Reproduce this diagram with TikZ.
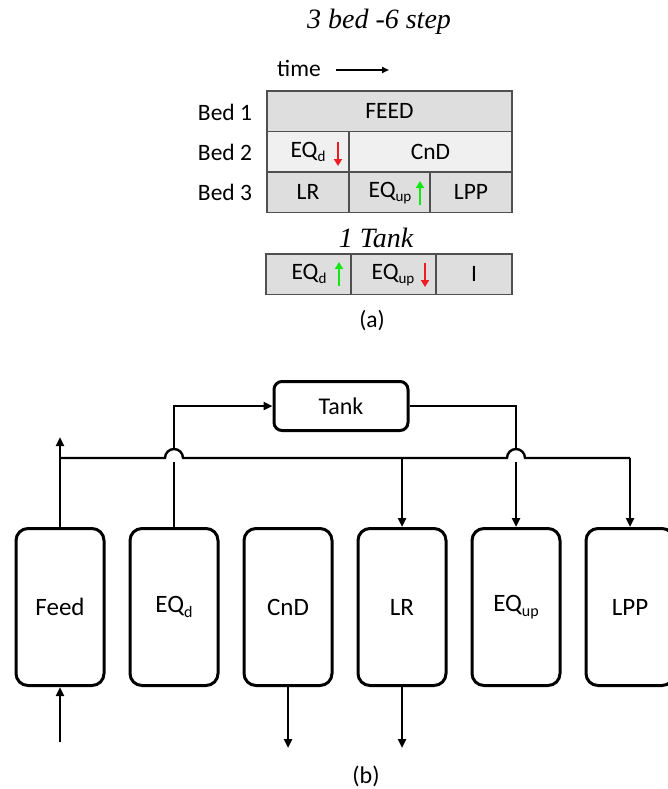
\documentclass[tikz,border=0pt]{standalone}
\usepackage{fontspec}
\setmainfont{Carlito}
\usetikzlibrary{arrows.meta}
\newfontfamily\ttlfont{Liberation Serif}
\definecolor{cellA}{HTML}{DEDEDE}
\definecolor{cellB}{HTML}{F0F0F0}
\definecolor{cellLine}{HTML}{505050}
\definecolor{arrRed}{HTML}{EE1C24}
\definecolor{arrGreen}{HTML}{14E614}
\newcommand\sbs[1]{\raisebox{-0.2em}{\scalebox{0.64}{#1}}}
\tikzset{
  cell/.style={draw=cellLine, line width=1.6pt, minimum height=40.5pt, inner sep=0pt, outer sep=0pt},
  gtxt/.style={font=\fontsize{23.5}{27}\selectfont, inner sep=0pt},
  ttl/.style={font=\ttlfont\itshape\fontsize{28}{32}\selectfont, inner sep=0pt},
  col/.style={draw, line width=3pt, rounded corners=12pt, minimum width=88pt, minimum height=157pt, inner sep=0pt, font=\fontsize{25}{30}\selectfont},
  conn/.style={line width=2.4pt},
  arr/.style={conn, -{Triangle[length=9pt,width=8pt]}},
  sym/.style={line width=2.8pt, -{Triangle[length=7pt,width=8pt]}}
}
\begin{document}
\begin{tikzpicture}[x=1pt,y=-1pt]
\useasboundingbox (0,0) rectangle (668,789);
\clip (0,0) rectangle (668,789);
% ---------------- (a) ----------------
\node[ttl] (title) at (379,22) {3 bed -6 step};
\node[gtxt, anchor=west] (time) at (277,68) {time};
\coordinate (tA) at (336,70);
\coordinate (tB) at (389,70);
\draw[line width=1.8pt, -{Triangle[length=7pt,width=6pt]}] (tA) -- (tB);

\node[gtxt] (bed1) at (225,112) {Bed 1};
\node[gtxt] (bed2) at (225,152) {Bed 2};
\node[gtxt] (bed3) at (225,192) {Bed 3};

\node[cell, fill=cellA, minimum width=245pt, anchor=north west] (feedc) at (267,91) {};
\node[cell, fill=cellB, minimum width=82pt, anchor=north west] (eqdc) at (267,131.5) {};
\node[cell, fill=cellB, minimum width=163pt, anchor=north west] (cndc) at (349,131.5) {};
\node[cell, fill=cellA, minimum width=82pt, anchor=north west] (lrc) at (267,172) {};
\node[cell, fill=cellA, minimum width=81pt, anchor=north west] (equpc) at (349,172) {};
\node[cell, fill=cellA, minimum width=82pt, anchor=north west] (lppc) at (430,172) {};

\node[gtxt] at (feedc.center) {FEED};
\node[gtxt] at (308,152) {EQ\sbs{d}};
\node[gtxt] at (cndc.center) {CnD};
\node[gtxt] at (lrc.center) {LR};
\node[gtxt] at (390,193) {EQ\sbs{up}};
\node[gtxt] at (lppc.center) {LPP};
\draw[sym, arrRed] (338,142) -- (338,166);
\draw[sym, arrGreen] (420,205) -- (420,181);

\node[ttl] (tanktitle) at (376,238) {1 Tank};
\node[cell, fill=cellA, minimum width=85pt, anchor=north west] (t1) at (266,254) {};
\node[cell, fill=cellA, minimum width=85pt, anchor=north west] (t2) at (351,254) {};
\node[cell, fill=cellA, minimum width=76pt, anchor=north west] (t3) at (436,254) {};
\node[gtxt] at (309,274) {EQ\sbs{d}};
\node[gtxt] at (393,275) {EQ\sbs{up}};
\node[gtxt] at (t3.center) {I};
\draw[sym, arrGreen] (339,286) -- (339,262);
\draw[sym, arrRed] (425,263) -- (425,287);

\node[gtxt] (capa) at (372,321) {(a)};

% ---------------- (b) ----------------
\node[draw, line width=3pt, rounded corners=8pt, minimum width=134pt, minimum height=49pt, inner sep=0pt, font=\fontsize{24}{28}\selectfont] (tank) at (341,406) {Tank};

\node[col] (feed) at (60,607) {Feed};
\node[col] (eqd)  at (174,607) {EQ\sbs{d}};
\node[col] (cnd)  at (288,607) {CnD};
\node[col] (lr)   at (402,607) {LR};
\node[col] (equp) at (516,607) {EQ\sbs{up}};
\node[col] (lpp)  at (630,607) {LPP};

\coordinate (feedin) at (60,742);
\coordinate (feedup) at (60,437);
\coordinate (cndout) at (288,748);
\coordinate (lrout)  at (402,748);
\coordinate (busL) at (60,458);
\coordinate (busLR) at (402,458);
\coordinate (busR) at (630,458);
\coordinate (hopA) at (174,449);
\coordinate (hopB) at (516,462);

% bus with hops
\draw[conn] (busL) -- (165,458) arc[start angle=180, end angle=360, radius=9] -- (507,458) arc[start angle=180, end angle=360, radius=9] -- (busR);

\draw[arr] (feedin) -- (feed.south);
\draw[arr] (feed.north) -- (feedup);
\draw[conn] (eqd.north) -- (174,462);
\draw[arr] (hopA) |- (tank.west);
\draw[conn] (tank.east) -| (516,449);
\draw[arr] (hopB) -- (equp.north);
\draw[arr] (busLR) -- (lr.north);
\draw[arr] (busR) -- (lpp.north);
\draw[arr] (cnd.south) -- (cndout);
\draw[arr] (lr.south) -- (lrout);

\node[font=\fontsize{24}{28}\selectfont, inner sep=0pt] (capb) at (366,776) {(b)};
\end{tikzpicture}
\end{document}
